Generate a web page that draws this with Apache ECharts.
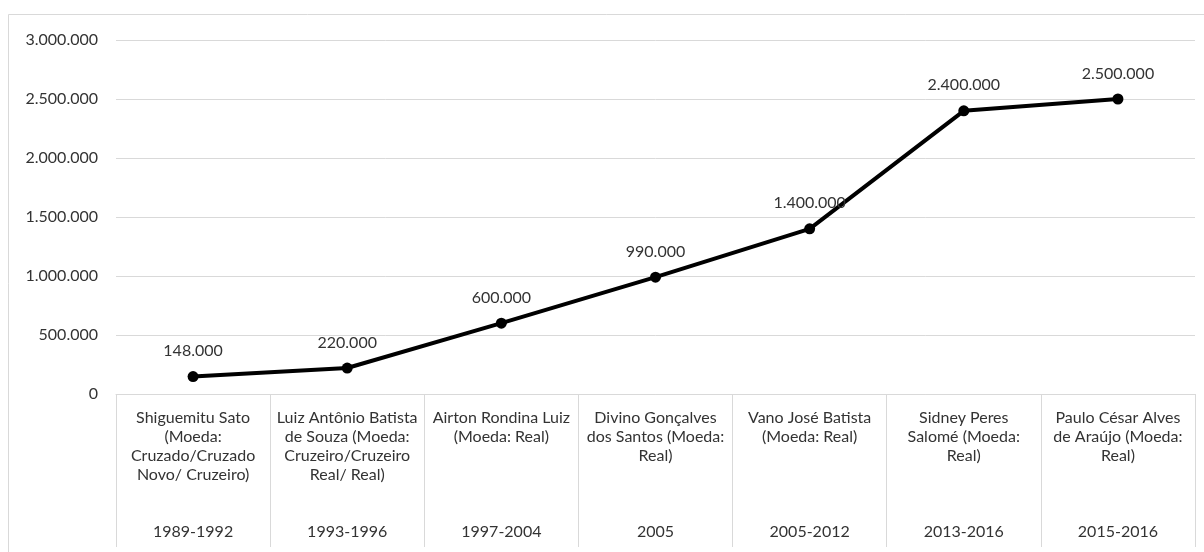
<!DOCTYPE html>
<html>
<head>
<meta charset="utf-8">
<script src="https://cdn.jsdelivr.net/npm/echarts@6/dist/echarts.min.js"></script>
<style>
  html, body { margin: 0; padding: 0; background: #fff; }
  #chart { width: 1204px; height: 552px; }
</style>
</head>
<body>
<div id="chart"></div>
<script>
const names = [
  ["Shiguemitu Sato", "(Moeda:", "Cruzado/Cruzado", "Novo/ Cruzeiro)"],
  ["Luiz Antônio Batista", "de Souza (Moeda:", "Cruzeiro/Cruzeiro", "Real/ Real)"],
  ["Airton Rondina Luiz", "(Moeda: Real)"],
  ["Divino Gonçalves", "dos Santos (Moeda:", "Real)"],
  ["Vano José Batista", "(Moeda: Real)"],
  ["Sidney Peres", "Salomé (Moeda:", "Real)"],
  ["Paulo César Alves", "de Araújo (Moeda:", "Real)"]
];
const periods = ["1989-1992", "1993-1996", "1997-2004", "2005", "2005-2012", "2013-2016", "2015-2016"];
const values = [148000, 220000, 600000, 990000, 1400000, 2400000, 2500000];
const yTicks = { min: 0, max: 3000000, interval: 500000 };

const categories = names.map((n, i) => {
  const lines = n.slice();
  while (lines.length < 6) lines.push("");
  lines.push(periods[i]);
  return lines.join("\n");
});

function fmt(v) {
  return String(Math.round(v)).replace(/\B(?=(\d{3})+(?!\d))/g, ".");
}

const FONT = "Lato";
const chart = echarts.init(document.getElementById('chart'));
chart.setOption({
  animation: false,
  backgroundColor: '#ffffff',
  graphic: [{
    type: 'rect',
    shape: { x: 8.5, y: 14.5, width: 1400, height: 700 },
    style: { fill: 'none', stroke: '#d9d9d9', lineWidth: 1 },
    silent: true
  }],
  grid: { left: 116, right: 9, top: 40, bottom: 158, containLabel: false },
  xAxis: {
    type: 'category',
    data: categories,
    boundaryGap: true,
    axisLine: { show: true, lineStyle: { color: '#d9d9d9', width: 1 } },
    axisTick: { show: true, interval: 0, alignWithLabel: false, length: 153, lineStyle: { color: '#d9d9d9', width: 1 } },
    axisLabel: {
      interval: 0,
      margin: 14,
      verticalAlign: 'top',
      align: 'center',
      lineHeight: 19,
      fontFamily: FONT,
      fontSize: 16,
      color: '#333333'
    },
    splitLine: { show: false }
  },
  yAxis: {
    type: 'value',
    min: yTicks.min,
    max: yTicks.max,
    interval: yTicks.interval,
    axisLine: { show: false },
    axisTick: { show: false },
    axisLabel: {
      formatter: fmt,
      margin: 18,
      fontFamily: FONT,
      fontSize: 16,
      color: '#333333'
    },
    splitLine: { show: true, lineStyle: { color: '#d9d9d9', width: 1 } }
  },
  series: [{
    type: 'line',
    data: values,
    symbol: 'circle',
    symbolSize: 11,
    lineStyle: { color: '#000000', width: 4 },
    itemStyle: { color: '#000000' },
    label: {
      show: true,
      position: 'top',
      distance: 12,
      formatter: p => fmt(p.value),
      fontFamily: FONT,
      fontSize: 16,
      color: '#333333'
    },
    z: 3
  }]
});
</script>
</body>
</html>
